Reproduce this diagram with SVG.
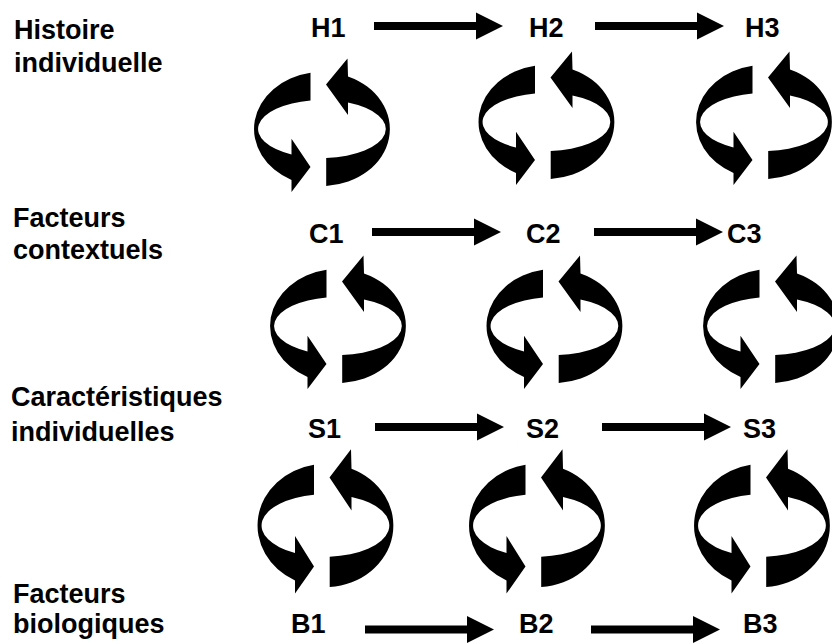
<svg xmlns="http://www.w3.org/2000/svg" xmlns:xlink="http://www.w3.org/1999/xlink" width="832" height="644" viewBox="0 0 832 644">
<style>
text{font-family:"Liberation Sans",Arial,sans-serif;font-weight:bold;fill:#000;}
.lbl{font-size:27px;}
.nd{font-size:27px;}
.fill{fill:#000;stroke:none;}
</style>
<defs>
<g id="cyc">
<path class="fill" d="M -11.5,-56.2 A 68 57 0 0 0 -30.5,50.9 L -30.5,63 L -11.5,38 L -30.5,9.7 L -30.5,25.5 A 64 29 0 0 1 -11.5,-28.5 Z"/>
<path class="fill" d="M 4.2,28.9 L 4.2,56.9 A 68 57 0 0 0 26,-52.6 L 25.5,-70.5 L 4,-44.5 L 26,-14 L 26,-26.5 A 64 29 0 0 1 4.2,28.9 Z"/>
</g>
<path id="arr" class="fill" d="M0,-4 H102 V-13.5 L129,0 L102,13.5 V4 H0 Z"/>
</defs>
<rect width="832" height="644" fill="#fff"/>
<g id="row-labels">
<text class="lbl" x="14" y="39">Histoire</text>
<text class="lbl" x="14" y="72">individuelle</text>
<text class="lbl" x="13" y="227">Facteurs</text>
<text class="lbl" x="13" y="259">contextuels</text>
<text class="lbl" x="11" y="406">Caractéristiques</text>
<text class="lbl" x="11" y="441">individuelles</text>
<text class="lbl" x="13" y="603">Facteurs</text>
<text class="lbl" x="13" y="633">biologiques</text>
</g>
<g id="connectors">
<use xlink:href="#arr" href="#arr" transform="translate(374,26)"/>
<use xlink:href="#arr" href="#arr" transform="translate(595,26)"/>
<use xlink:href="#arr" href="#arr" transform="translate(372,232)"/>
<use xlink:href="#arr" href="#arr" transform="translate(594,232)"/>
<use xlink:href="#arr" href="#arr" transform="translate(375,427)"/>
<use xlink:href="#arr" href="#arr" transform="translate(602,427)"/>
<use xlink:href="#arr" href="#arr" transform="translate(365,629.5)"/>
<use xlink:href="#arr" href="#arr" transform="translate(591,629.5)"/>
</g>
<g id="cycles">
<use xlink:href="#cyc" href="#cyc" transform="translate(322,129)"/>
<use xlink:href="#cyc" href="#cyc" transform="translate(546.5,122)"/>
<use xlink:href="#cyc" href="#cyc" transform="translate(764,122)"/>
<use xlink:href="#cyc" href="#cyc" transform="translate(338,326)"/>
<use xlink:href="#cyc" href="#cyc" transform="translate(554.5,326)"/>
<use xlink:href="#cyc" href="#cyc" transform="translate(771,326)"/>
<use xlink:href="#cyc" href="#cyc" transform="translate(325.5,525.5) scale(1,1.08)"/>
<use xlink:href="#cyc" href="#cyc" transform="translate(537,525.5) scale(1,1.08)"/>
<use xlink:href="#cyc" href="#cyc" transform="translate(762,525.5) scale(1,1.08)"/>
</g>
<g id="H1"><text class="nd" x="311" y="37">H1</text></g>
<g id="H2"><text class="nd" x="529" y="37">H2</text></g>
<g id="H3"><text class="nd" x="745" y="37">H3</text></g>
<g id="C1"><text class="nd" x="309" y="243">C1</text></g>
<g id="C2"><text class="nd" x="526" y="243">C2</text></g>
<g id="C3"><text class="nd" x="727" y="243">C3</text></g>
<g id="S1"><text class="nd" x="308" y="438">S1</text></g>
<g id="S2"><text class="nd" x="526" y="438">S2</text></g>
<g id="S3"><text class="nd" x="743" y="438">S3</text></g>
<g id="B1"><text class="nd" x="291" y="633">B1</text></g>
<g id="B2"><text class="nd" x="519" y="633">B2</text></g>
<g id="B3"><text class="nd" x="743" y="633">B3</text></g>
</svg>
